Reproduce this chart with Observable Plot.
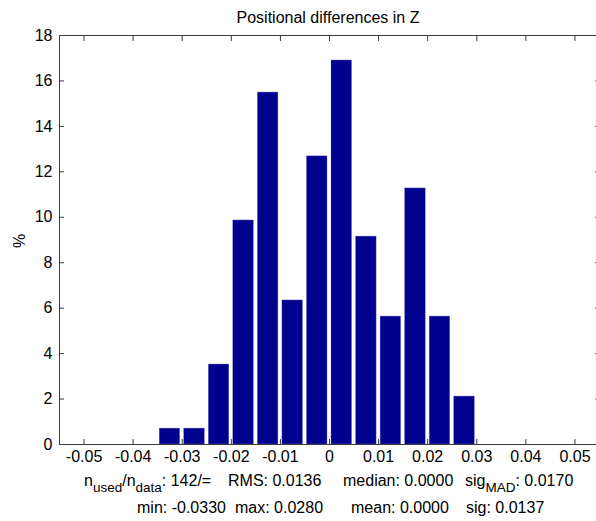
<!DOCTYPE html>
<html><head><meta charset="utf-8">
<script src="https://cdn.jsdelivr.net/npm/d3@7"></script>
<script src="https://cdn.jsdelivr.net/npm/@observablehq/plot@0.6"></script>
<style>body{margin:0;overflow:hidden;background:#fff}</style>
</head><body><div id="chart"></div>
<script>
// ---- data ----
const binCenters = [-0.0325, -0.0275, -0.0225, -0.0175, -0.0125, -0.0075, -0.0025, 0.0025, 0.0075, 0.0125, 0.0175, 0.0225, 0.0275];
const percents   = [0.70, 0.70, 3.52, 9.86, 15.49, 6.34, 12.68, 16.90, 9.15, 5.63, 11.27, 5.63, 2.11];
const binWidth = 0.005;
const xTicks = [-0.05, -0.04, -0.03, -0.02, -0.01, 0, 0.01, 0.02, 0.03, 0.04, 0.05];
const yTicks = [0, 2, 4, 6, 8, 10, 12, 14, 16, 18];
const xDomain = [-0.055, 0.055];
const yDomain = [0, 18];
const titleText = "Positional differences in Z";
const yLabelText = "%";
const statsLine1 = [
  {parts: [["n",""],["used","sub"],["/n",""],["data","sub"],[": 142/=",""]], x: 84},
  {parts: [["RMS: 0.0136",""]], x: 228},
  {parts: [["median: 0.0000",""]], x: 343},
  {parts: [["sig",""],["MAD","sub"],[": 0.0170",""]], x: 465}
];
const statsLine2 = [
  {parts: [["min: -0.0330",""]], x: 137},
  {parts: [["max: 0.0280",""]], x: 235},
  {parts: [["mean: 0.0000",""]], x: 351},
  {parts: [["sig: 0.0137",""]], x: 466}
];

const bins = binCenters.map((c, i) => ({x1: c - binWidth / 2, x2: c + binWidth / 2, pct: percents[i]}));
const font = "'Liberation Sans', Arial, Helvetica, sans-serif";
const axisColor = "#3a3a3a";
const barColor = "#00008F";

const plot = Plot.plot({
  width: 596, height: 521,
  marginLeft: 59, marginRight: -3, marginTop: 35, marginBottom: 77,
  style: {fontFamily: font, fontSize: "16px", color: "#000", background: "#fff", overflow: "hidden"},
  x: {domain: xDomain},
  y: {domain: yDomain},
  marks: [
    Plot.rectY(bins, {x1: "x1", x2: "x2", y: "pct", fill: barColor, stroke: "#6f6fc0", strokeWidth: 0.4, insetLeft: 2, insetRight: 2}),
    Plot.ruleY([yDomain[0]], {stroke: axisColor}),
    Plot.ruleY([yDomain[1]], {stroke: axisColor}),
    Plot.ruleX([xDomain[0]], {stroke: axisColor}),
    Plot.axisX(xTicks, {anchor: "bottom", tickSize: -5, stroke: axisColor, fill: "none", label: null}),
    Plot.axisX(xTicks, {anchor: "top", tickSize: -5, stroke: axisColor, fill: "none", label: null}),
    Plot.axisY(yTicks, {anchor: "left", tickSize: -5, stroke: axisColor, fill: "none", label: null}),
    Plot.axisY(yTicks, {anchor: "right", tickSize: -5, stroke: axisColor, fill: "none", label: null}),
    Plot.axisX(xTicks, {anchor: "bottom", tickSize: 0, tickPadding: 6, fill: "#000", label: null, fontSize: 16,
      tickFormat: d => d === 0 ? "0" : d.toFixed(2)}),
    Plot.axisY(yTicks, {anchor: "left", tickSize: 0, tickPadding: 7, fill: "#000", label: null, fontSize: 16})
  ]
});

const svg = d3.select(plot);
svg.append("text")
  .attr("x", 328).attr("y", 22.5)
  .attr("text-anchor", "middle")
  .attr("font-family", font).attr("font-size", 16).attr("fill", "#000")
  .text(titleText);
svg.append("text")
  .attr("transform", "translate(25,241) rotate(-90)")
  .attr("text-anchor", "middle")
  .attr("font-family", font).attr("font-size", 16).attr("fill", "#000")
  .text(yLabelText);

function drawLine(groups, baseline) {
  for (const g of groups) {
    const t = svg.append("text")
      .attr("x", g.x).attr("y", baseline)
      .attr("text-anchor", "start")
      .attr("font-family", font).attr("font-size", 16).attr("fill", "#000")
      .attr("xml:space", "preserve");
    let shifted = false;
    for (const [s, kind] of g.parts) {
      const ts = t.append("tspan").text(s);
      if (kind === "sub") {
        ts.attr("font-size", 13.5).attr("dy", shifted ? 0 : 6);
        shifted = true;
      } else {
        if (shifted) ts.attr("dy", -6);
        shifted = false;
      }
    }
  }
}
drawLine(statsLine1, 486);
drawLine(statsLine2, 513);

document.getElementById("chart").appendChild(plot);
</script>
</body></html>
